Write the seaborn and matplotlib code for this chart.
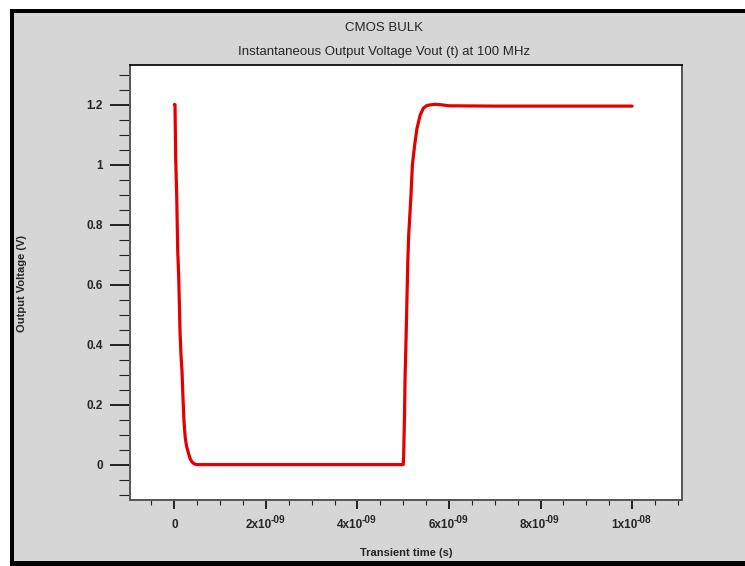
import numpy as np
import pandas as pd
import matplotlib
matplotlib.use("Agg")
import matplotlib.pyplot as plt
from matplotlib.patches import Rectangle
from matplotlib.ticker import FixedLocator
import seaborn as sns

# Transient response of the CMOS bulk inverter output (time in ns, voltage in V)
time_ns = [0.0, 0.015, 0.03, 0.052, 0.074, 0.096, 0.125, 0.146, 0.168, 0.19,
           0.212, 0.24, 0.27, 0.30, 0.34, 0.38, 0.43, 0.49, 1.0, 2.0, 3.0,
           4.0, 5.0, 5.01, 5.03, 5.04, 5.06, 5.08, 5.10, 5.12, 5.17, 5.20,
           5.25, 5.30, 5.37, 5.44, 5.52, 5.59, 5.70, 5.80, 6.0, 7.0, 8.0,
           9.0, 10.0]
vout = [1.2, 1.2, 1.02, 0.9, 0.715, 0.626, 0.443, 0.365, 0.31, 0.22,
        0.143, 0.087, 0.06, 0.043, 0.022, 0.01, 0.003, 0.0, 0.0, 0.0, 0.0,
        0.0, 0.0, 0.032, 0.176, 0.288, 0.405, 0.538, 0.676, 0.765, 0.898, 0.998,
        1.065, 1.12, 1.165, 1.188, 1.197, 1.199, 1.201, 1.2, 1.196, 1.195, 1.195,
        1.195, 1.195]

# time axis labels: mantissa part and superscript exponent
x_tick_values = [0.0, 2e-9, 4e-9, 6e-9, 8e-9, 1e-8]
x_tick_mantissa = ["0", "2x10", "4x10", "6x10", "8x10", "1x10"]
x_tick_exponent = ["", "-09", "-09", "-09", "-09", "-08"]
y_tick_values = [0.0, 0.2, 0.4, 0.6, 0.8, 1.0, 1.2]
y_tick_labels = ["0", "0.2", "0.4", "0.6", "0.8", "1", "1.2"]

title_main = "CMOS BULK"
title_sub = "Instantaneous Output Voltage Vout (t) at 100 MHz"
x_label = "Transient time (s)"
y_label = "Output Voltage (V)"

sns.set_theme(style="white")
plt.rcParams["font.family"] = ["Liberation Sans", "DejaVu Sans"]

df = pd.DataFrame({"t": np.array(time_ns) * 1e-9, "v": vout})

W, H = 745, 566
fig = plt.figure(figsize=(W / 100, H / 100), dpi=100, facecolor="white")

# window frame: black border with a light grey panel inside
fig.patches.append(Rectangle((10 / W, 0), 1, (H - 9) / H, transform=fig.transFigure,
                             facecolor="black", edgecolor="none", zorder=-3))
fig.patches.append(Rectangle((14 / W, 5 / H), 1, (H - 18) / H, transform=fig.transFigure,
                             facecolor="#d6d6d6", edgecolor="none", zorder=-2))

ax = fig.add_axes([130 / W, (H - 500) / H, (682 - 130) / W, (500 - 65) / H])
ax.set_facecolor("white")

sns.lineplot(data=df, x="t", y="v", ax=ax, color="#e50000", linewidth=2.3,
             estimator=None, sort=False)

ax.set_xlim(-0.968e-9, 11.09e-9)
ax.set_ylim(-0.118, 1.332)

ax.set_xticks(x_tick_values)
ax.set_yticks(y_tick_values, y_tick_labels)
ax.xaxis.set_minor_locator(FixedLocator(np.arange(-0.5e-9, 11.01e-9, 0.5e-9)))
ax.yaxis.set_minor_locator(FixedLocator(np.arange(-0.1, 1.31, 0.05)))

tick_color = "#222222"
ax.tick_params(axis="x", which="major", direction="out", length=6.5, width=1.4,
               color=tick_color, bottom=True, labelbottom=False)
ax.tick_params(axis="x", which="minor", direction="out", length=3.6, width=0.8,
               color=tick_color, bottom=True)
ax.tick_params(axis="y", which="major", direction="out", length=14.4, width=1.4,
               color=tick_color, pad=5, labelsize=8.5, left=True)
ax.tick_params(axis="y", which="minor", direction="out", length=7.9, width=0.8,
               color=tick_color, left=True)
for lab in ax.get_yticklabels():
    lab.set_fontweight("bold")

# time tick labels with a full-size bold exponent, centred as a whole under each tick
renderer = fig.canvas.get_renderer()
base_drop = -28
for v, mant, expo in zip(x_tick_values, x_tick_mantissa, x_tick_exponent):
    t_base = ax.annotate(mant, xy=(v, 0), xycoords=ax.get_xaxis_transform(),
                         xytext=(0, base_drop), textcoords="offset pixels",
                         ha="center", va="baseline", fontsize=8.5,
                         fontweight="bold", annotation_clip=False)
    if expo:
        t_exp = ax.annotate(expo, xy=(v, 0), xycoords=ax.get_xaxis_transform(),
                            xytext=(0, base_drop + 5), textcoords="offset pixels",
                            ha="left", va="baseline", fontsize=7.3,
                            fontweight="bold", annotation_clip=False)
        wb = t_base.get_window_extent(renderer).width
        we = t_exp.get_window_extent(renderer).width
        t_base.set_position((-we / 2, base_drop))
        t_exp.set_position((wb / 2 - we / 2 - 1.5, base_drop + 5))

for side in ["left", "bottom", "right"]:
    ax.spines[side].set_color("#555555")
    ax.spines[side].set_linewidth(1.4)
ax.spines["top"].set_color("black")
ax.spines["top"].set_linewidth(1.2)

ax.set_xlabel("")
ax.set_ylabel("")
fig.text(406 / W, 1 - 553 / H, x_label, ha="center", va="center",
         fontsize=8, fontweight="bold")
fig.text(22 / W, 1 - 283 / H, y_label, ha="center", va="center",
         rotation=90, fontsize=8, fontweight="bold")
fig.text(384 / W, 1 - 28 / H, title_main, ha="center", va="center", fontsize=9.5)
fig.text(384 / W, 1 - 52 / H, title_sub, ha="center", va="center", fontsize=9.5)

fig.savefig("out.png", dpi=100, facecolor=fig.get_facecolor())
